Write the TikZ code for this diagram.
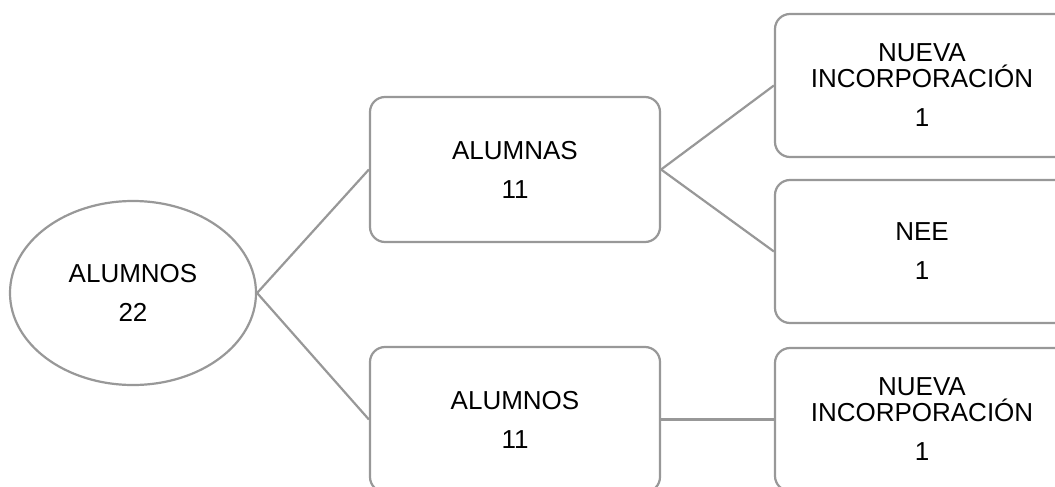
\documentclass[tikz,border=0pt]{standalone}
\usepackage{fontspec}
\setmainfont{Liberation Sans}
\usetikzlibrary{shapes.geometric}
\definecolor{linegray}{RGB}{152,152,152}
\tikzset{
  box/.style={draw=linegray, line width=2.2pt, rounded corners=15pt, minimum width=290pt, minimum height=145pt, align=center, inner sep=0pt, fill=white},
  leaf/.style={box, minimum width=294pt, minimum height=143pt},
  oval/.style={draw=linegray, line width=2.2pt, ellipse, minimum width=246pt, minimum height=184pt, inner sep=0pt, align=center, fill=white},
  conn/.style={draw=linegray, line width=2.2pt},
  lbl/.style={font=\fontsize{26}{26}\selectfont}
}
\begin{document}
\begin{tikzpicture}[x=1pt,y=-1pt]
\fill[white] (0,0) rectangle (1055,487);
\clip (0,0) rectangle (1055,487);
\node[oval, lbl] (root) at (133,293) {ALUMNOS\\[13pt]22};
\node[box, lbl] (girls) at (515,169.5) {ALUMNAS\\[13pt]11};
\node[box, lbl] (boys) at (515,419.5) {ALUMNOS\\[13pt]11};
\node[leaf, lbl] (g1) at (922,85.5) {NUEVA\\INCORPORACIÓN\\[13pt]1};
\node[leaf, lbl] (g2) at (922,251.5) {NEE\\[13pt]1};
\node[leaf, lbl] (b1) at (922,419.5) {NUEVA\\INCORPORACIÓN\\[13pt]1};
\draw[conn] (root.east) -- (girls.west);
\draw[conn] (root.east) -- (boys.west);
\draw[conn] (girls.east) -- (g1.west);
\draw[conn] (girls.east) -- (g2.west);
\draw[conn] (boys.east) -- (b1.west);
\end{tikzpicture}
\end{document}
